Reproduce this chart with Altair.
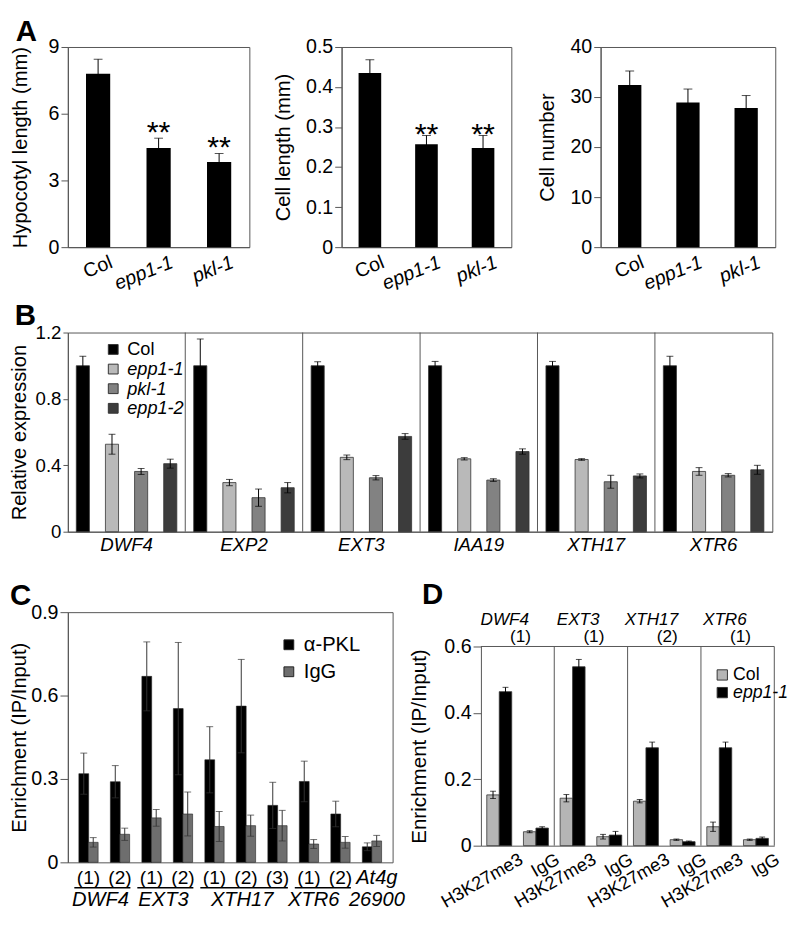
import altair as alt
import pandas as pd

FONT = "Liberation Sans"
FRAME = "#555555"

# ---------------- Panel A ----------------
geno_a = ["Col", "epp1-1", "pkl-1"]
hyp_mean = [7.8, 4.46, 3.83]
hyp_err = [0.65, 0.44, 0.38]
cell_len_mean = [0.435, 0.257, 0.248]
cell_len_err = [0.033, 0.022, 0.031]
cell_num_mean = [32.4, 28.9, 27.8]
cell_num_err = [2.8, 2.7, 2.5]
stars_a = ["", "**", "**"]
stars_none = ["", "", ""]

# ---------------- Panel B ----------------
genes_b = ["DWF4", "EXP2", "EXT3", "IAA19", "XTH17", "XTR6"]
lines_b = ["Col", "epp1-1", "pkl-1", "epp1-2"]
colors_b = ["#000000", "#b9b9b9", "#828282", "#3c3c3c"]
b_col = [1.0, 1.0, 1.0, 1.0, 1.0, 1.0]
b_col_err = [0.057, 0.161, 0.024, 0.026, 0.026, 0.057]
b_epp11 = [0.527, 0.296, 0.448, 0.439, 0.435, 0.363]
b_epp11_err = [0.060, 0.019, 0.014, 0.007, 0.005, 0.023]
b_pkl1 = [0.363, 0.205, 0.325, 0.311, 0.301, 0.340]
b_pkl1_err = [0.018, 0.052, 0.013, 0.008, 0.039, 0.010]
b_epp12 = [0.410, 0.265, 0.574, 0.483, 0.336, 0.373]
b_epp12_err = [0.027, 0.031, 0.017, 0.016, 0.012, 0.027]

# ---------------- Panel C ----------------
sites_c = ["(1)", "(2)", "(1)", "(2)", "(1)", "(2)", "(3)", "(1)", "(2)", ""]
site_gene_c = ["DWF4", "DWF4", "EXT3", "EXT3", "XTH17", "XTH17", "XTH17",
               "XTR6", "XTR6", "At4g26900"]
groups_c = ["DWF4", "EXT3", "XTH17", "XTR6"]
ab_c = ["α-PKL", "IgG"]
pkl_c = [0.319, 0.290, 0.669, 0.553, 0.369, 0.562, 0.205, 0.291, 0.174, 0.056]
pkl_err_c = [0.074, 0.058, 0.124, 0.238, 0.119, 0.168, 0.083, 0.073, 0.046, 0.014]
igg_c = [0.072, 0.101, 0.160, 0.174, 0.129, 0.132, 0.132, 0.066, 0.072, 0.077]
igg_err_c = [0.017, 0.022, 0.030, 0.079, 0.054, 0.038, 0.055, 0.016, 0.021, 0.020]

# ---------------- Panel D ----------------
genes_d = ["DWF4", "EXT3", "XTH17", "XTR6"]
sites_d = ["(1)", "(1)", "(2)", "(1)"]
abs_d = ["H3K27me3", "IgG"]
geno_d = ["Col", "epp1-1"]
d_col_h3 = [0.153, 0.143, 0.134, 0.057]
d_col_h3_err = [0.011, 0.011, 0.005, 0.014]
d_epp_h3 = [0.464, 0.539, 0.295, 0.295]
d_epp_h3_err = [0.013, 0.022, 0.017, 0.017]
d_col_igg = [0.042, 0.027, 0.018, 0.018]
d_col_igg_err = [0.003, 0.007, 0.002, 0.002]
d_epp_igg = [0.053, 0.032, 0.012, 0.022]
d_epp_igg_err = [0.004, 0.011, 0.002, 0.004]

ONE = pd.DataFrame({"k": [0]})
ONE_DEC = ".1~f"


def box(L, W, R, T, H, B):
    """Hair-thin white rules that fix each panel's layout cell."""
    top = alt.Chart(ONE).mark_rule(stroke="white", strokeWidth=0.1).encode(
        x=alt.value(-L), x2=alt.value(W + R), y=alt.value(-T))
    bot = alt.Chart(ONE).mark_rule(stroke="white", strokeWidth=0.1).encode(
        x=alt.value(-L), x2=alt.value(W + R), y=alt.value(H + B))
    return [top, bot]


def letter(ch, x, y):
    return alt.Chart(ONE).mark_text(
        text=ch, font=FONT, fontSize=30, fontWeight="bold", align="left",
        baseline="alphabetic", color="black").encode(x=alt.value(x), y=alt.value(y))


ITALIC_UNLESS_COL_AXIS = {"condition": {"test": "datum.value === 'Col'", "value": "normal"},
                          "value": "italic"}
ITALIC_UNLESS_COL_LEGEND = alt.ExprRef(expr="datum.label === 'Col' ? 'normal' : 'italic'")


def panel_a(mean, err, stars, title, ymax, ticks, W, L, R, title_x, star_dy, let=None):
    T, H, B = 30, 204, 50
    df = pd.DataFrame({"g": geno_a, "v": mean, "e": err, "s": stars})
    df["lo"] = df["v"] - df["e"]
    df["hi"] = df["v"] + df["e"]
    base = alt.Chart(df)
    x = alt.X("g:N", sort=geno_a,
              scale=alt.Scale(domain=geno_a, paddingInner=0.6, paddingOuter=0.3),
              axis=alt.Axis(title=None, ticks=False, labelAngle=-22, labelAlign="right",
                            labelBaseline="top", labelPadding=5, labelOffset=10,
                            labelFontSize=20, labelFontStyle=ITALIC_UNLESS_COL_AXIS))
    y = alt.Y("v:Q", scale=alt.Scale(domain=[0, ymax], nice=False),
              axis=alt.Axis(title=title, values=ticks, tickSize=7, labelPadding=2,
                            format=ONE_DEC, labelOverlap=False,
                            labelFontSize=20, titleFontSize=20.5, titleX=title_x))
    xr = alt.X("g:N", sort=geno_a)
    bars = base.mark_bar(color="black").encode(x=x, y=y)
    rule = base.mark_rule(color="black", strokeWidth=1).encode(x=xr, y="lo:Q", y2="hi:Q")
    cap = base.mark_tick(color="black", orient="horizontal", size=9, thickness=1).encode(
        x=xr, y="hi:Q")
    star = base.mark_text(font=FONT, fontSize=31, baseline="alphabetic", dy=star_dy,
                          color="black").encode(x=xr, y="hi:Q", text="s:N")
    layers = [bars, rule, cap, star] + box(L, W, R, T, H, B)
    if let:
        layers.append(letter(let, -53, -6))
    return alt.layer(*layers).properties(width=W, height=H)


def panel_b():
    T, H, B, L, W, R = 35, 203, 48, 60, 718, 1
    vals = {"Col": (b_col, b_col_err), "epp1-1": (b_epp11, b_epp11_err),
            "pkl-1": (b_pkl1, b_pkl1_err), "epp1-2": (b_epp12, b_epp12_err)}
    rows = []
    for ln in lines_b:
        m, e = vals[ln]
        for i, g in enumerate(genes_b):
            rows.append({"gene": g, "line": ln, "v": m[i], "e": e[i]})
    df = pd.DataFrame(rows)
    df["lo"] = df["v"] - df["e"]
    df["hi"] = df["v"] + df["e"]
    base = alt.Chart(df)
    x = alt.X("gene:N", scale=alt.Scale(domain=genes_b, paddingInner=0, paddingOuter=0),
              axis=alt.Axis(title=None, ticks=False, labelAngle=0, labelAlign="center",
                            labelBaseline="top", labelFontStyle="italic",
                            labelFontSize=19, labelPadding=4))
    xo = alt.XOffset("line:N", scale=alt.Scale(domain=lines_b, paddingInner=0.55,
                                                paddingOuter=0.29))
    y = alt.Y("v:Q", scale=alt.Scale(domain=[0, 1.2], nice=False),
              axis=alt.Axis(title="Relative expression",
                            values=[0, 0.2, 0.4, 0.6, 0.8, 1.0, 1.2],
                            labelExpr="datum.value == 0 ? '0' : format(datum.value, '.1f')",
                            labelOverlap=False,
                            tickSize=5, labelPadding=2, labelFontSize=19,
                            titleFontSize=20.5, titleX=-39))
    color = alt.Color("line:N", scale=alt.Scale(domain=lines_b, range=colors_b),
                      legend=alt.Legend(orient="none", legendX=37, legendY=8, title=None,
                                        symbolType="square", symbolSize=100,
                                        symbolStrokeColor="#333333", symbolStrokeWidth=1,
                                        labelFontSize=18.5, rowPadding=1, labelOffset=5,
                                        padding=0,
                                        labelFontStyle=ITALIC_UNLESS_COL_LEGEND))
    bars = base.mark_bar(stroke="#333333", strokeWidth=0.8).encode(
        x=x, xOffset=xo, y=y, color=color)
    xr = alt.X("gene:N")
    xor = alt.XOffset("line:N")
    rule = base.mark_rule(color="black", strokeWidth=1).encode(
        x=xr, xOffset=xor, y="lo:Q", y2="hi:Q")
    cap_hi = base.mark_tick(color="black", orient="horizontal", size=7, thickness=1).encode(
        x=xr, xOffset=xor, y="hi:Q")
    cap_lo = base.mark_tick(color="black", orient="horizontal", size=7, thickness=1).encode(
        x=xr, xOffset=xor, y="lo:Q")
    sep = alt.Chart(pd.DataFrame({"gene": genes_b[1:]})).mark_rule(
        color=FRAME, strokeWidth=1).encode(
        x=alt.X("gene:N", bandPosition=0), y=alt.value(0), y2=alt.value(H))
    layers = [bars, sep, rule, cap_hi, cap_lo] + box(L, W, R, T, H, B) + [letter("B", -54, -8)]
    return alt.layer(*layers).properties(width=W, height=H)


def panel_c():
    T, H, B, L, W, R = 32, 255, 49, 60, 331, 15
    rows = []
    for i in range(len(pkl_c)):
        rows.append({"i": i, "ab": ab_c[0], "v": pkl_c[i], "e": pkl_err_c[i]})
        rows.append({"i": i, "ab": ab_c[1], "v": igg_c[i], "e": igg_err_c[i]})
    df = pd.DataFrame(rows)
    df["lo"] = df["v"] - df["e"]
    df["hi"] = df["v"] + df["e"]
    base = alt.Chart(df).transform_calculate(
        pos="datum.i + (datum.ab === 'IgG' ? 0.15 : -0.15)")
    xs = alt.Scale(domain=[-0.5, len(pkl_c) - 0.5], nice=False, zero=False)
    x = alt.X("pos:Q", scale=xs, axis=None)
    y = alt.Y("v:Q", scale=alt.Scale(domain=[0, 0.9], nice=False),
              axis=alt.Axis(title="Enrichment (IP/Input)", values=[0, 0.3, 0.6, 0.9],
                            format=ONE_DEC, labelOverlap=False,
                            tickSize=8, labelPadding=2, labelFontSize=20,
                            titleFontSize=20.5, titleX=-39))
    color = alt.Color("ab:N", scale=alt.Scale(domain=ab_c, range=["#000000", "#6e6e6e"]),
                      legend=alt.Legend(orient="none", legendX=215, legendY=23, title=None,
                                        symbolType="square", symbolSize=100,
                                        symbolStrokeColor="#222222", symbolStrokeWidth=1,
                                        labelFontSize=20.5, rowPadding=6.5, labelOffset=5,
                                        padding=0, labelFontStyle="normal"))
    bars = base.mark_bar(orient="vertical", width=10, stroke="#222222",
                         strokeWidth=0.6).encode(x=x, y=y, color=color)
    xr = alt.X("pos:Q")
    rule = base.mark_rule(color="#333333", strokeWidth=1).encode(x=xr, y="lo:Q", y2="hi:Q")
    cap_hi = base.mark_tick(color="#333333", orient="horizontal", size=7,
                            thickness=1).encode(x=xr, y="hi:Q")
    cap_lo = base.mark_tick(color="#333333", orient="horizontal", size=7,
                            thickness=1).encode(x=xr, y="lo:Q")

    site_df = pd.DataFrame({"i": list(range(len(sites_c))), "lab": sites_c})
    site_df = site_df[site_df["lab"] != ""]
    site_txt = alt.Chart(site_df).mark_text(font=FONT, fontSize=19.5, baseline="middle",
                                            color="black").encode(
        x=alt.X("i:Q"), y=alt.value(H + 16), text="lab:N")

    grp_rows = []
    for n, g in enumerate(groups_c):
        idx = [k for k, s in enumerate(site_gene_c) if s == g]
        shift = 0.12 if n < len(groups_c) - 1 else 0.35  # last label leaves room for At4g
        grp_rows.append({"gene": g, "mid": (idx[0] + idx[-1]) / 2 - shift,
                         "start": idx[0] - 0.45, "end": idx[-1] + 0.33})
    grp = pd.DataFrame(grp_rows)
    underline = alt.Chart(grp).mark_rule(color="black", strokeWidth=1.5).encode(
        x=alt.X("start:Q"), x2="end:Q", y=alt.value(H + 26))
    gene_txt = alt.Chart(grp).mark_text(font=FONT, fontSize=20.5, fontStyle="italic",
                                        baseline="middle", color="black").encode(
        x=alt.X("mid:Q"), y=alt.value(H + 38), text="gene:N")
    ctrl = pd.DataFrame({"i": [site_gene_c.index("At4g26900")],
                         "a": ["At4g"], "b": ["26900"]})
    ctrl_a = alt.Chart(ctrl).mark_text(font=FONT, fontSize=20.5, fontStyle="italic",
                                       baseline="middle", dx=5, color="black").encode(
        x=alt.X("i:Q"), y=alt.value(H + 16), text="a:N")
    ctrl_b = alt.Chart(ctrl).mark_text(font=FONT, fontSize=20.5, fontStyle="italic",
                                       baseline="middle", dx=5, color="black").encode(
        x=alt.X("i:Q"), y=alt.value(H + 38), text="b:N")
    layers = [bars, rule, cap_hi, cap_lo, site_txt, underline, gene_txt, ctrl_a, ctrl_b] \
        + box(L, W, R, T, H, B) + [letter("C", -59, -7)]
    return alt.layer(*layers).properties(width=W, height=H)


def panel_d():
    # view shares its top with panel C; the D frame starts DROP px lower
    DROP, HP = 35, 203
    HV = DROP + HP
    T, B, L, W, R = 32, 66, 73, 299, 0
    keys = [f"{g}|{a}" for g in genes_d for a in abs_d]
    series = {("H3K27me3", "Col"): (d_col_h3, d_col_h3_err),
              ("H3K27me3", "epp1-1"): (d_epp_h3, d_epp_h3_err),
              ("IgG", "Col"): (d_col_igg, d_col_igg_err),
              ("IgG", "epp1-1"): (d_epp_igg, d_epp_igg_err)}
    rows = []
    for gi, g in enumerate(genes_d):
        for a in abs_d:
            for gt in geno_d:
                m, e = series[(a, gt)]
                rows.append({"key": f"{g}|{a}", "geno": gt, "v": m[gi], "e": e[gi]})
    df = pd.DataFrame(rows)
    df["lo"] = df["v"] - df["e"]
    df["hi"] = df["v"] + df["e"]
    base = alt.Chart(df)
    x = alt.X("key:N", scale=alt.Scale(domain=keys, paddingInner=0, paddingOuter=0),
              axis=alt.Axis(title=None, ticks=False,
                            labelExpr="split(datum.value, '|')[1]",
                            labelAngle=-30, labelAlign="right", labelBaseline="top",
                            labelFontSize=18.5, labelOffset=18, labelPadding=4))
    xo = alt.XOffset("geno:N", scale=alt.Scale(domain=geno_d, paddingInner=0,
                                                paddingOuter=0.47))
    ysc = alt.Scale(domain=[0, 0.6], range=[HV, DROP], nice=False)
    y = alt.Y("v:Q", scale=ysc,
              axis=alt.Axis(title="Enrichment (IP/Input)", values=[0, 0.2, 0.4, 0.6],
                            format=ONE_DEC, labelOverlap=False,
                            tickSize=8, labelPadding=2, labelFontSize=20,
                            titleFontSize=21, titleX=-52))
    color = alt.Color("geno:N", scale=alt.Scale(domain=geno_d, range=["#b5b5b5", "#000000"]),
                      legend=alt.Legend(orient="none", legendX=237, legendY=DROP + 20,
                                        title=None,
                                        symbolType="square", symbolSize=110,
                                        symbolStrokeColor="#333333", symbolStrokeWidth=1,
                                        labelFontSize=18, rowPadding=-1, labelOffset=2,
                                        padding=0,
                                        labelFontStyle=ITALIC_UNLESS_COL_LEGEND))
    bars = base.mark_bar(stroke="#333333", strokeWidth=0.8).encode(
        x=x, xOffset=xo, y=y, color=color)
    xr = alt.X("key:N")
    xor = alt.XOffset("geno:N")
    rule = base.mark_rule(color="black", strokeWidth=1).encode(
        x=xr, xOffset=xor, y="lo:Q", y2="hi:Q")
    cap_hi = base.mark_tick(color="black", orient="horizontal", size=6, thickness=1).encode(
        x=xr, xOffset=xor, y="hi:Q")
    cap_lo = base.mark_tick(color="black", orient="horizontal", size=6, thickness=1).encode(
        x=xr, xOffset=xor, y="lo:Q")
    sep = alt.Chart(pd.DataFrame({"key": [f"{g}|H3K27me3" for g in genes_d[1:]]})).mark_rule(
        color=FRAME, strokeWidth=1).encode(
        x=alt.X("key:N", bandPosition=0), y=alt.datum(0), y2=alt.datum(0.6))
    frame_top = alt.Chart(ONE).mark_rule(color=FRAME, strokeWidth=1).encode(
        x=alt.value(0), x2=alt.value(W), y=alt.datum(0.6))
    frame_right = alt.Chart(ONE).mark_rule(color=FRAME, strokeWidth=1).encode(
        x=alt.value(W), y=alt.datum(0), y2=alt.datum(0.6))
    top_df = pd.DataFrame({"key": [f"{g}|IgG" for g in genes_d], "gene": genes_d,
                           "site": sites_d})
    top_gene = alt.Chart(top_df).mark_text(font=FONT, fontSize=17.5, fontStyle="italic",
                                           baseline="middle", dx=-13, color="black").encode(
        x=alt.X("key:N", bandPosition=0), y=alt.value(DROP - 27), text="gene:N")
    top_site = alt.Chart(top_df).mark_text(font=FONT, fontSize=17.5, baseline="middle",
                                           dx=3, color="black").encode(
        x=alt.X("key:N", bandPosition=0), y=alt.value(DROP - 10), text="site:N")
    layers = [bars, sep, frame_top, frame_right, rule, cap_hi, cap_lo, top_gene, top_site] \
        + box(L, W, R, T, HV, B) + [letter("D", -60, -8)]
    return alt.layer(*layers).properties(width=W, height=HV,
                                         view=alt.ViewBackground(stroke=None))


a1 = panel_a(hyp_mean, hyp_err, stars_a, "Hypocotyl length (mm)", 9, [0, 3, 6, 9],
             W=185, L=60, R=22, title_x=-38, star_dy=4, let="A")
a2 = panel_a(cell_len_mean, cell_len_err, stars_a, "Cell length (mm)", 0.5,
             [0, 0.1, 0.2, 0.3, 0.4, 0.5], W=173, L=70, R=23, title_x=-49, star_dy=9)
a3 = panel_a(cell_num_mean, cell_num_err, stars_none, "Cell number", 40,
             [0, 10, 20, 30, 40], W=178, L=66, R=0, title_x=-44, star_dy=4)

row1 = alt.hconcat(a1, a2, a3, spacing=0)
row3 = alt.hconcat(panel_c(), panel_d(), spacing=0).resolve_scale(
    color="independent", xOffset="independent")

chart = alt.vconcat(row1, panel_b(), row3, spacing=0).resolve_scale(
    color="independent", xOffset="independent"
).properties(
    padding=0
).configure_view(
    stroke=FRAME, strokeWidth=1
).configure_axis(
    labelFont=FONT, titleFont=FONT, labelColor="black", titleColor="black",
    domainColor=FRAME, tickColor=FRAME, grid=False, titleFontWeight="normal"
).configure_legend(
    labelFont=FONT, titleFont=FONT, labelColor="black"
).configure_text(font=FONT)

chart.save("out.html", embed_options={"renderer": "svg", "actions": False})
